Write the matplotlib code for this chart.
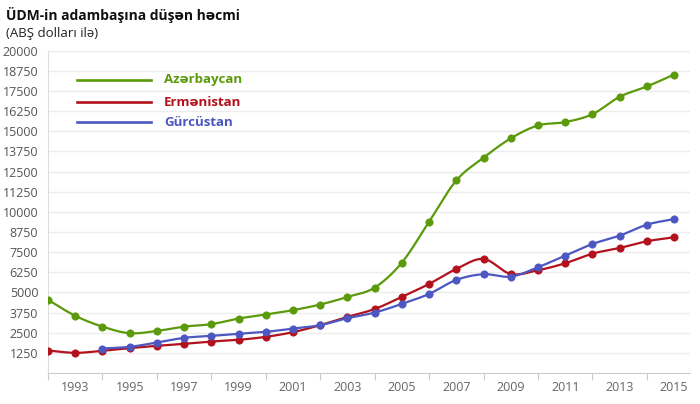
import numpy as np
import matplotlib
matplotlib.use("Agg")
import matplotlib.pyplot as plt
from matplotlib.lines import Line2D

years_az = list(range(1992, 2016))
azerbaycan = [4540, 3550, 2880, 2470, 2610, 2880, 3030, 3380, 3630, 3900, 4250, 4720,
              5300, 6850, 9390, 11950, 13360, 14560, 15360, 15570, 16060, 17140, 17780, 18520]
years_ar = list(range(1992, 2016))
ermenistan = [1395, 1252, 1376, 1543, 1686, 1810, 1952, 2057, 2243, 2534, 2968, 3483,
              3970, 4722, 5528, 6457, 7077, 6147, 6377, 6810, 7406, 7759, 8174, 8422]
years_ge = list(range(1994, 2016))
gurcustan = [1518, 1624, 1890, 2181, 2305, 2429, 2553, 2758, 2968, 3400,
             3750, 4288, 4908, 5776, 6129, 5980, 6563, 7282, 8007, 8521, 9203, 9556]

series_names = ["Azərbaycan", "Ermənistan", "Gürcüstan"]
colors = ["#5b9a0a", "#b3111c", "#4c57c1"]
y_ticks = list(range(1250, 20001, 1250))
x_label_years = list(range(1993, 2016, 2))
x_tick_years = list(range(1992, 2016, 2))


def catmull(xs, ys, n=24):
    xs = np.asarray(xs, float)
    ys = np.asarray(ys, float)
    px = np.concatenate([[2 * xs[0] - xs[1]], xs, [2 * xs[-1] - xs[-2]]])
    py = np.concatenate([[2 * ys[0] - ys[1]], ys, [2 * ys[-1] - ys[-2]]])
    ox, oy = [], []
    for i in range(1, len(px) - 2):
        t = np.linspace(0, 1, n, endpoint=False)
        for arr, out in ((px, ox), (py, oy)):
            p0, p1, p2, p3 = arr[i - 1], arr[i], arr[i + 1], arr[i + 2]
            out.extend(0.5 * ((2 * p1) + (-p0 + p2) * t + (2 * p0 - 5 * p1 + 4 * p2 - p3) * t ** 2
                              + (-p0 + 3 * p1 - 3 * p2 + p3) * t ** 3))
    ox.append(xs[-1])
    oy.append(ys[-1])
    return np.array(ox), np.array(oy)


W, H = 700, 404
fig = plt.figure(figsize=(W / 100, H / 100), dpi=100)
plt.rcParams['font.family'] = ['Open Sans', 'DejaVu Sans']
ax = fig.add_axes([48 / W, 1 - 373 / H, (690 - 48) / W, (373 - 50.7) / H])
ax.set_xlim(1992, 1992 + (690 - 48.5) / 27.2)
ax.set_ylim(0, 20000)

for v in y_ticks:
    ax.axhline(v, color="#ececec", lw=1, zorder=0)

data = [(years_az, azerbaycan), (years_ar, ermenistan), (years_ge, gurcustan)]
order = [0, 2, 1]
for i in order:
    xs, ys = data[i]
    sx, sy = catmull(xs, ys)
    ax.plot(sx, sy, color=colors[i], lw=1.6, zorder=3 + i, solid_capstyle="round")
    ax.plot(xs, ys, "o", color=colors[i], ms=5.2, mec=colors[i], mew=0.6, zorder=3 + i)

for s in ["top", "right"]:
    ax.spines[s].set_visible(False)
ax.spines["left"].set_color("#dddddd")
ax.spines["bottom"].set_color("#cccccc")

ax.set_yticks(y_ticks)
ax.set_yticklabels([str(v) for v in y_ticks], color="#555555", fontsize=9)
ax.tick_params(axis="y", length=0, pad=7)
ax.set_xticks(x_tick_years)
ax.set_xticklabels([])
ax.tick_params(axis="x", which="major", length=5, color="#cccccc")
ax.set_xticks(x_label_years, minor=True)
ax.set_xticklabels([str(y) for y in x_label_years], minor=True, color="#666666", fontsize=9)
ax.tick_params(axis="x", which="minor", length=0, pad=6)

# legend
leg_y = [80, 102, 122]
for name, c, yy in zip(series_names, colors, leg_y):
    fig.add_artist(Line2D([77 / W, 151 / W], [1 - yy / H, 1 - yy / H], color=c, lw=1.9))
    fig.text(164 / W, 1 - yy / H, name, color=c, fontsize=9.5, fontweight="bold", va="center", ha="left")

fig.text(6 / W, 1 - 15 / H, "ÜDM-in adambaşına düşən həcmi", fontsize=10, fontweight="bold",
         va="center", ha="left", color="#111111")
fig.text(6 / W, 1 - 33 / H, "(ABŞ dolları ilə)", fontsize=9.5, va="center", ha="left", color="#222222")

fig.savefig("out.png", dpi=100)
